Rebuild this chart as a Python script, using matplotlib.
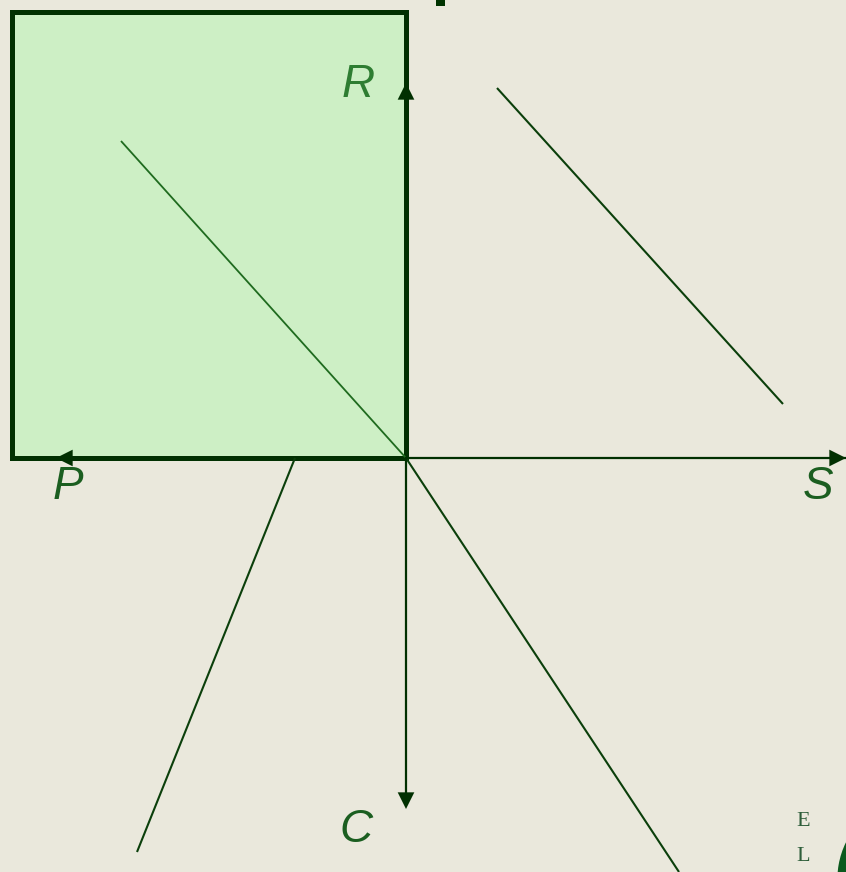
import matplotlib
matplotlib.use('Agg')
import matplotlib.pyplot as plt
from matplotlib.patches import Rectangle, Ellipse

# -------------------------
# DATA (pixel space of the 846x872 diagram, y grows downward)
# -------------------------
origin = (406, 458)
box_corner = (12, 12)

line_names = ["guide", "upper_right", "lower_left", "lower_right"]
line_x0 = [121, 497, 295, 406]
line_y0 = [141, 88, 458, 458]
line_x1 = [406, 783, 137, 679]
line_y1 = [458, 404, 852, 872]

axis_labels = ["R", "P", "S", "C"]
label_x = [358, 68, 818, 356]
label_y = [85, 487, 487, 830]

# -------------------------
# STYLE
# -------------------------
BG = "#EAE8DC"
FILL = "#CDEFC5"
DARK = "#013001"
MID = "#0B3F0B"
LABEL_GREEN = "#2E7D32"
LABEL_DARK = "#1B5E20"

fig = plt.figure(figsize=(8.46, 8.72), dpi=100)
fig.patch.set_facecolor(BG)
ax = fig.add_axes([0, 0, 1, 1])
ax.set_facecolor(BG)
ax.set_xlim(0, 846)
ax.set_ylim(872, 0)
ax.axis('off')

ox, oy = origin
bx, by = box_corner

# green box
ax.add_patch(Rectangle((bx, by), ox - bx, oy - by, facecolor=FILL,
                       edgecolor=DARK, linewidth=3.6, joinstyle='miter', zorder=1))

# thin axes to the right and down
ax.plot([ox, 846], [oy, oy], color=DARK, lw=1.6, zorder=3)
ax.plot([ox, ox], [oy, 800], color=DARK, lw=1.6, zorder=3)

# arrowheads
def head(x, y, dx, dy):
    ax.annotate("", xy=(x, y), xytext=(x - dx, y - dy),
                arrowprops=dict(arrowstyle="-|>", color=DARK, lw=0,
                                mutation_scale=30, shrinkA=0, shrinkB=0),
                zorder=4)

head(846, oy, 16, 0)
head(ox, 809, 0, 16)
head(ox, 83, 0, -16)
head(56, oy, -16, 0)

# sloped lines
line_colors = ["#1F6B1F", MID, MID, MID]
line_widths = [1.3, 1.5, 1.5, 1.5]
for i in range(len(line_names)):
    ax.plot([line_x0[i], line_x1[i]], [line_y0[i], line_y1[i]],
            color=line_colors[i], lw=line_widths[i], solid_capstyle='butt', zorder=2)

# labels
label_colors = [LABEL_GREEN, LABEL_DARK, LABEL_DARK, LABEL_DARK]
for i, name in enumerate(axis_labels):
    ax.text(label_x[i], label_y[i], name, fontsize=33, style='italic',
            family='Liberation Sans', color=label_colors[i],
            ha='center', va='center', zorder=5)

# cropped title fragment at the top
ax.add_patch(Rectangle((436, -2), 9, 8, facecolor="#003300", edgecolor='none', zorder=5))

# logo corner
ax.text(803, 821, "E", fontsize=16, family='Liberation Serif', color="#2E5E3A",
        ha='center', va='center')
ax.text(803, 856, "L", fontsize=16, family='Liberation Serif', color="#2E5E3A",
        ha='center', va='center')
ax.add_patch(Ellipse((880, 872), 84, 120, angle=10, facecolor="#0B5A1E",
                     edgecolor='none', zorder=5))

fig.savefig("out.png", dpi=100, facecolor=BG)
